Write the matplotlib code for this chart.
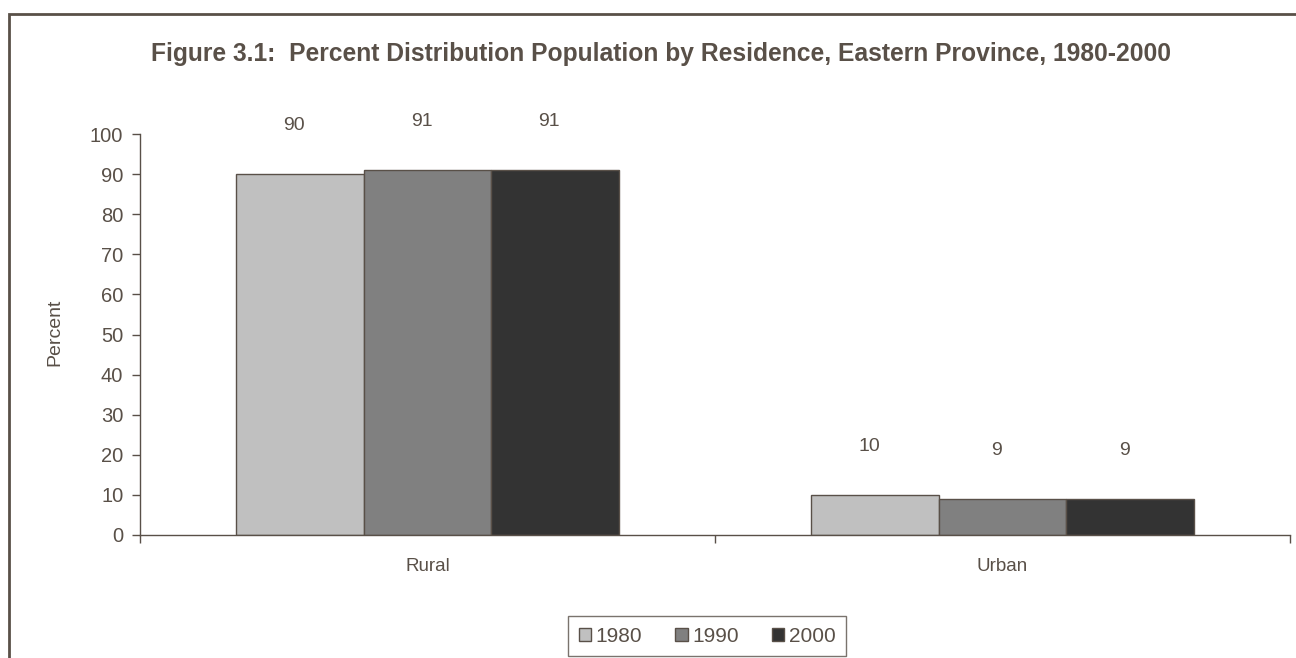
import numpy as np
import matplotlib
matplotlib.use("Agg")
import matplotlib.pyplot as plt
from matplotlib.patches import Rectangle

plt.rcParams['font.family'] = ['Liberation Sans', 'DejaVu Sans']

# percent distribution by residence
categories = ["Rural", "Urban"]
years = ["1980", "1990", "2000"]
pct_1980 = [90, 10]
pct_1990 = [91, 9]
pct_2000 = [91, 9]

ink = "#595048"
bar_colors = ["#C0C0C0", "#808080", "#333333"]

fig = plt.figure(figsize=(12.96, 6.58), dpi=100, facecolor="white")
ax = fig.add_axes([140 / 1296, 1 - 535 / 658, 1150 / 1296, 401 / 658])

# chart area border (runs off the right and bottom of the canvas)
fig.patches.append(Rectangle((9 / 1296, -0.2), 1.2, 1.2 - 14 / 658,
                             transform=fig.transFigure, fill=False,
                             edgecolor=ink, linewidth=2, zorder=0))

x = np.arange(len(categories))
width = 0.222
series = [pct_1980, pct_1990, pct_2000]
for i, (vals, year, col) in enumerate(zip(series, years, bar_colors)):
    pos = x + (i - 1) * width
    ax.bar(pos, vals, width, color=col, edgecolor=ink, linewidth=1, label=year)
    for xp, v in zip(pos, vals):
        ax.text(xp - 0.01, v + 12, str(v), ha="center", va="center",
                fontsize=14, color=ink, clip_on=False)

ax.set_xlim(-0.5, 1.5)
ax.set_ylim(0, 100)
ax.set_yticks(range(0, 101, 10))
ax.set_xticks([-0.5, 0.5, 1.5])
ax.set_xticklabels([])
ax.set_xticks(x, minor=True)
ax.set_xticklabels(categories, minor=True)
ax.tick_params(axis="x", which="minor", length=0, pad=16.5, labelsize=13.5, labelcolor=ink)
ax.tick_params(axis="x", which="major", length=6, width=1, color=ink, direction="out")
ax.tick_params(axis="y", length=6, width=1, color=ink, labelsize=14.5, labelcolor=ink, pad=6)

for side in ["top", "right"]:
    ax.spines[side].set_visible(False)
for side in ["left", "bottom"]:
    ax.spines[side].set_color(ink)
    ax.spines[side].set_linewidth(1)

ax.set_ylabel("Percent", fontsize=14, color=ink)
ax.yaxis.set_label_coords((63 - 140) / 1150, (535 - 332) / 401)

fig.text(661 / 1296, 1 - 54 / 658, "Figure 3.1:  Percent Distribution Population by Residence, Eastern Province, 1980-2000",
         ha="center", va="center", fontsize=17.7, fontweight="bold", color=ink)

leg = ax.legend(loc="center", bbox_to_anchor=(707 / 1296, 1 - 636 / 658),
                bbox_transform=fig.transFigure, ncol=3, frameon=True, fancybox=False,
                fontsize=15, handlelength=0.6, handleheight=0.6, handletextpad=0.2,
                columnspacing=1.6, borderpad=0.5)
leg.get_frame().set_edgecolor(ink)
leg.get_frame().set_linewidth(1)
for t in leg.get_texts():
    t.set_color(ink)

fig.savefig("out.png", dpi=100, facecolor="white")
